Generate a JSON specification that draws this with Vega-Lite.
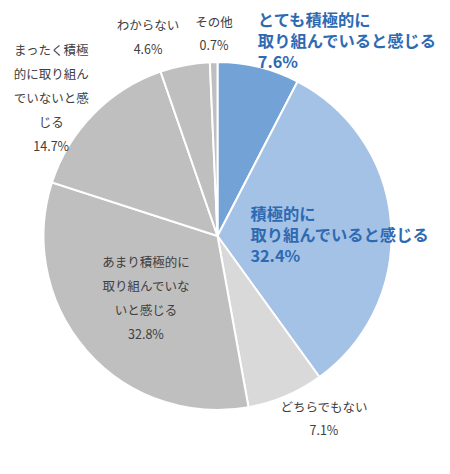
{
  "$schema": "https://vega.github.io/schema/vega-lite/v6.json",
  "width": 435,
  "height": 472,
  "autosize": "none",
  "padding": 0,
  "background": "white",
  "view": {"stroke": null},
  "config": {"text": {"font": "Noto Sans CJK JP"}},
  "data": {
    "values": [
      {"i": 1, "label": "とても積極的に\n取り組んでいると感じる\n7.6%", "v": 7.6},
      {"i": 2, "label": "積極的に\n取り組んでいると感じる\n32.4%", "v": 32.4},
      {"i": 3, "label": "どちらでもない\n7.1%", "v": 7.1},
      {"i": 4, "label": "あまり積極的に\n取り組んでいな\nいと感じる\n32.8%", "v": 32.8},
      {"i": 5, "label": "まったく積極\n的に取り組ん\nでいないと感\nじる\n14.7%", "v": 14.7},
      {"i": 6, "label": "わからない\n4.6%", "v": 4.6},
      {"i": 7, "label": "その他\n0.7%", "v": 0.7}
    ]
  },
  "encoding": {
    "theta": {"field": "v", "type": "quantitative", "stack": true},
    "order": {"field": "i", "type": "quantitative"}
  },
  "layer": [
    {
      "mark": {"type": "arc", "outerRadius": 174, "stroke": "white", "strokeWidth": 2},
      "encoding": {
        "color": {
          "field": "i",
          "type": "nominal",
          "legend": null,
          "scale": {
            "domain": [1, 2, 3, 4, 5, 6, 7],
            "range": ["#73A3D6", "#A4C2E6", "#D9D9D9", "#BFBFBF", "#BFBFBF", "#BFBFBF", "#BFBFBF"]
          }
        }
      }
    },
    {
      "mark": {"type": "text", "radius": 200, "dx": -7, "dy": -21, "align": "left", "baseline": "middle", "lineBreak": "\n", "lineHeight": 21, "fontSize": 16.3, "fontWeight": "bold", "color": "#2E6AB2"},
      "encoding": {"text": {"condition": {"test": "datum.i == 1", "field": "label"}, "value": ""}}
    },
    {
      "mark": {"type": "text", "radius": 33, "dy": -19, "align": "left", "baseline": "middle", "lineBreak": "\n", "lineHeight": 21, "fontSize": 16.3, "fontWeight": "bold", "color": "#2E6AB2"},
      "encoding": {"text": {"condition": {"test": "datum.i == 2", "field": "label"}, "value": ""}}
    },
    {
      "mark": {"type": "text", "radius": 213, "dx": 23, "dy": -24, "align": "center", "baseline": "middle", "lineBreak": "\n", "lineHeight": 23.5, "fontSize": 12.5, "color": "#404040"},
      "encoding": {"text": {"condition": {"test": "datum.i == 3", "field": "label"}, "value": ""}}
    },
    {
      "mark": {"type": "text", "radius": 95, "dy": -36, "align": "center", "baseline": "middle", "lineBreak": "\n", "lineHeight": 24, "fontSize": 12.5, "color": "#404040"},
      "encoding": {"text": {"condition": {"test": "datum.i == 4", "field": "label"}, "value": ""}}
    },
    {
      "mark": {"type": "text", "radius": 216, "dx": -12, "dy": -34, "align": "center", "baseline": "middle", "lineBreak": "\n", "lineHeight": 24, "fontSize": 12.5, "color": "#404040"},
      "encoding": {"text": {"condition": {"test": "datum.i == 5", "field": "label"}, "value": ""}}
    },
    {
      "mark": {"type": "text", "radius": 210, "dx": -30, "dy": -4, "align": "center", "baseline": "middle", "lineBreak": "\n", "lineHeight": 24, "fontSize": 12.5, "color": "#404040"},
      "encoding": {"text": {"condition": {"test": "datum.i == 6", "field": "label"}, "value": ""}}
    },
    {
      "mark": {"type": "text", "radius": 202, "dx": 1, "dy": -11.5, "align": "center", "baseline": "middle", "lineBreak": "\n", "lineHeight": 23, "fontSize": 12.5, "color": "#404040"},
      "encoding": {"text": {"condition": {"test": "datum.i == 7", "field": "label"}, "value": ""}}
    }
  ]
}
